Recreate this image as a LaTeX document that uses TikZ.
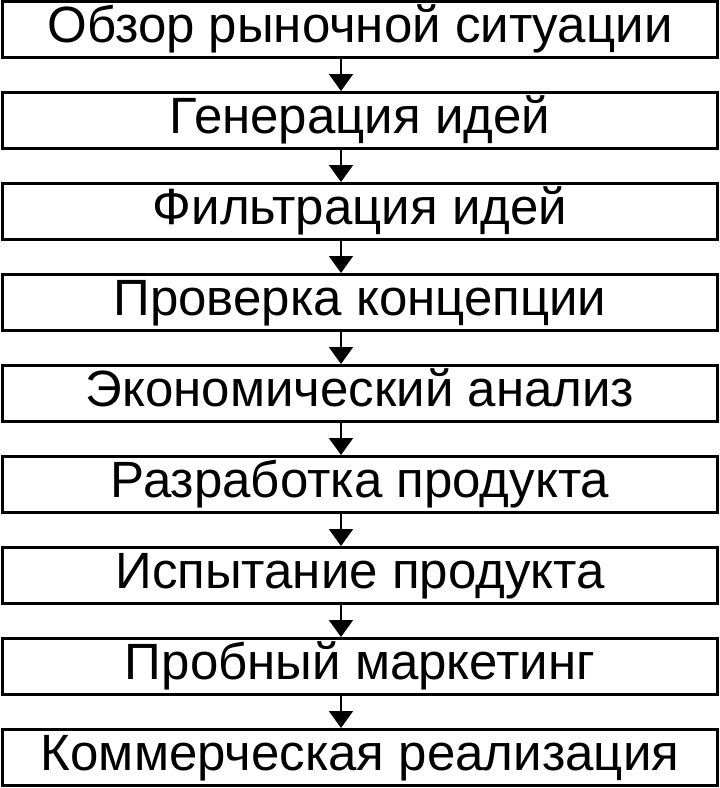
\documentclass[tikz,border=0pt]{standalone}
\usepackage{fontspec}
\setmainfont{Liberation Sans}
\usetikzlibrary{arrows.meta}

\begin{document}
\begin{tikzpicture}[x=1pt,y=-1pt,
stage/.style={draw,line width=3pt,minimum width=714.5pt,minimum height=56pt,
  inner sep=0pt,text height=25pt,text depth=0pt,font=\fontsize{51}{60}\selectfont},
link/.style={line width=2pt,-{Triangle[width=24pt,length=17pt]}}]

\useasboundingbox (0,0) rectangle (720,788);

\node[stage] (obzor) at (360,29.5) {Обзор рыночной ситуации};
\node[stage] (gen) at (360,120.5) {Генерация идей};
\node[stage] (filtr) at (360,211.5) {Фильтрация идей};
\node[stage] (konc) at (360,302.5) {Проверка концепции};
\node[stage] (econ) at (360,393.5) {Экономический анализ};
\node[stage] (razr) at (360,484.5) {Разработка продукта};
\node[stage] (ispyt) at (360,575.5) {Испытание продукта};
\node[stage] (marketing) at (360,666.5) {Пробный маркетинг};
\node[stage] (kommerc) at (360,757.5) {Коммерческая реализация};

\draw[link] ([xshift=-19pt]obzor.south) -- ([xshift=-19pt]gen.north);
\draw[link] ([xshift=-19pt]gen.south) -- ([xshift=-19pt]filtr.north);
\draw[link] ([xshift=-19pt]filtr.south) -- ([xshift=-19pt]konc.north);
\draw[link] ([xshift=-19pt]konc.south) -- ([xshift=-19pt]econ.north);
\draw[link] ([xshift=-19pt]econ.south) -- ([xshift=-19pt]razr.north);
\draw[link] ([xshift=-19pt]razr.south) -- ([xshift=-19pt]ispyt.north);
\draw[link] ([xshift=-19pt]ispyt.south) -- ([xshift=-19pt]marketing.north);
\draw[link] ([xshift=-19pt]marketing.south) -- ([xshift=-19pt]kommerc.north);

\end{tikzpicture}
\end{document}
